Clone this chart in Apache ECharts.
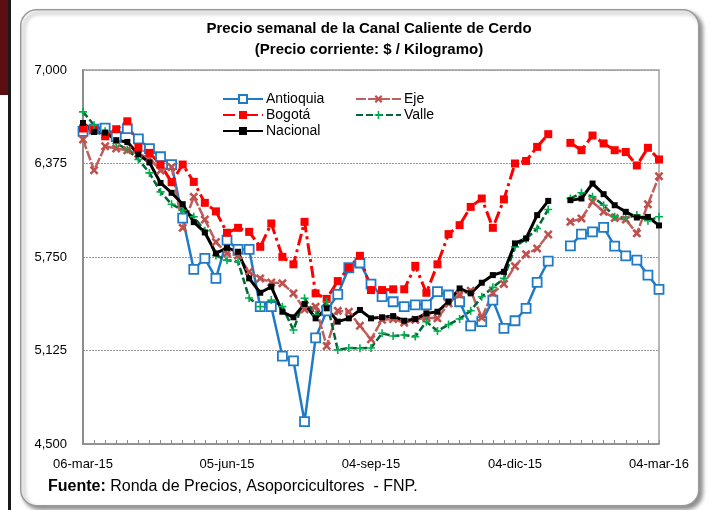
<!DOCTYPE html>
<html>
<head>
<meta charset="utf-8">
<script src="https://cdn.jsdelivr.net/npm/echarts@6/dist/echarts.min.js"></script>
<style>
  html, body { margin: 0; padding: 0; background: #fff; }
  #chart { width: 710px; height: 510px; }
</style>
</head>
<body>
<div id="chart"></div>
<script>
// semanas (viernes) de 06-mar-15 a 04-mar-16
var semanas = [
  '06-mar-15','13-mar-15','20-mar-15','27-mar-15','03-abr-15','10-abr-15','17-abr-15','24-abr-15',
  '01-may-15','08-may-15','15-may-15','22-may-15','29-may-15','05-jun-15','12-jun-15','19-jun-15',
  '26-jun-15','03-jul-15','10-jul-15','17-jul-15','24-jul-15','31-jul-15','07-ago-15','14-ago-15',
  '21-ago-15','28-ago-15','04-sep-15','11-sep-15','18-sep-15','25-sep-15','02-oct-15','09-oct-15',
  '16-oct-15','23-oct-15','30-oct-15','06-nov-15','13-nov-15','20-nov-15','27-nov-15','04-dic-15',
  '11-dic-15','18-dic-15','25-dic-15','01-ene-16','08-ene-16','15-ene-16','22-ene-16','29-ene-16',
  '05-feb-16','12-feb-16','19-feb-16','26-feb-16','04-mar-16'
];
var etiquetasX = ['06-mar-15', '05-jun-15', '04-sep-15', '04-dic-15', '04-mar-16'];
var ticksY = [4500, 5125, 5750, 6375, 7000];

var antioquia = [6590,6605,6612,6555,6608,6540,6475,6420,6368,6010,5667,5741,5607,5863,5801,5801,
  5418,5418,5088,5055,4650,5209,5390,5500,5678,5710,5569,5485,5451,5418,5430,5430,5518,5496,5451,
  5289,5318,5462,5273,5324,5407,5580,5723,null,5825,5903,5918,5948,5823,5758,5729,5629,5534];
var eje = [6535,6330,6490,6475,6464,6440,6410,6328,6352,5945,6152,6000,5850,5774,5760,5651,
  5607,5580,5574,5507,5400,5418,5155,5390,5384,5290,5200,5330,5335,5311,5330,5345,5340,5440,5500,
  5525,5345,5510,5570,5689,5769,5807,5900,null,5985,6008,6119,6052,6010,6000,5908,6103,6290];
var bogota = [6609,6600,6557,6604,6657,6482,6446,6368,6250,6368,6252,6112,6055,5912,5945,5918,
  5818,5974,5751,5701,5985,5507,5470,5589,5678,5758,5529,5529,5534,5534,5691,5511,5701,5903,5963,
  6085,6141,5945,6135,6375,6392,6486,6571,null,6513,6464,6562,6509,6464,6452,6362,6480,6402];
var valle = [6720,6631,6590,6509,6469,6402,6312,6185,6103,6063,6019,5925,5760,5729,5718,5476,
  5418,5462,5418,5262,5474,5362,5451,5129,5142,5140,5142,5240,5222,5229,5218,5318,5255,5298,5336,
  5391,5484,5547,5607,5818,5870,5941,6068,null,6141,6179,6152,6096,6019,6012,6030,5992,6019];
var nacional = [6646,6586,6582,6531,6519,6437,6382,6245,6179,6103,5983,5914,5774,5811,5785,5607,
  5511,5551,5384,5347,5436,5340,5407,5318,5340,5396,5340,5347,5355,5324,5335,5373,5384,5451,5540,
  5507,5578,5629,5651,5841,5874,6030,6125,null,6130,6141,6241,6170,6096,6052,6014,6018,5961];

// simbolos: x y +
var simboloX = 'path://M2,0 L5,3 L8,0 L10,2 L7,5 L10,8 L8,10 L5,7 L2,10 L0,8 L3,5 L0,2 Z';
var simboloMas = 'path://M4,0 L6,0 L6,4 L10,4 L10,6 L6,6 L6,10 L4,10 L4,6 L0,6 L0,4 L4,4 Z';

var fuente = 'Liberation Sans, Arial, sans-serif';

var chart = echarts.init(document.getElementById('chart'));

var option = {
  backgroundColor: '#ffffff',
  animation: false,
  textStyle: { fontFamily: fuente },
  graphic: [
    { type: 'rect', left: 0, top: 0, shape: { width: 8, height: 95 }, style: { fill: '#5c0f12' } },
    { type: 'rect', left: 8, top: 0, shape: { width: 3, height: 510 }, style: { fill: '#1a1a1a' } },
    {
      type: 'rect', left: 20, top: 9, z: -1,
      shape: { x: 0, y: 0, width: 678, height: 496, r: 16 },
      style: { fill: '#fff', stroke: '#9a9a9a', lineWidth: 1.5,
        shadowBlur: 4, shadowOffsetX: 3, shadowOffsetY: 3, shadowColor: 'rgba(0,0,0,0.45)' }
    },
    {
      type: 'text', left: 48, top: 479,
      style: {
        text: '{b|Fuente:} Ronda de Precios, Asoporcicultores  - FNP.',
        rich: { b: { fontWeight: 'bold', fontSize: 16, fontFamily: fuente, fill: '#000' } },
        fontSize: 16, fontFamily: fuente, fill: '#000'
      }
    }
  ],
  title: {
    text: 'Precio semanal de la Canal Caliente de Cerdo\n(Precio corriente: $ / Kilogramo)',
    left: 364, top: 13, textAlign: 'center',
    textStyle: { fontSize: 15, fontWeight: 'bold', color: '#000', lineHeight: 21, fontFamily: fuente }
  },
  legend: [
    {
      data: ['Antioquia', 'Bogotá', 'Nacional'],
      orient: 'vertical', left: 222, top: 92, padding: 0, itemGap: 2, itemWidth: 40, itemHeight: 10,
      textStyle: { fontSize: 14, color: '#000', fontFamily: fuente, padding: [0, 0, 0, -2] }
    },
    {
      data: ['Eje', 'Valle'],
      orient: 'vertical', left: 355, top: 92, padding: 0, itemGap: 2, itemWidth: 45, itemHeight: 10,
      textStyle: { fontSize: 14, color: '#000', fontFamily: fuente, padding: [0, 0, 0, -2] }
    }
  ],
  grid: { left: 83, right: 51, top: 70, bottom: 66, show: true, borderColor: '#a0a0a0', borderWidth: 1.5 },
  xAxis: {
    type: 'category', data: semanas, boundaryGap: false,
    axisLine: { lineStyle: { color: '#8c8c8c', width: 1.5 } },
    axisTick: { inside: true, length: 4, interval: 0, lineStyle: { color: '#8c8c8c' } },
    axisLabel: {
      interval: function (i, v) { return etiquetasX.indexOf(v) >= 0; },
      color: '#000', fontSize: 13, margin: 14, fontFamily: fuente
    },
    splitLine: { show: false }
  },
  yAxis: {
    type: 'value', min: ticksY[0], max: ticksY[ticksY.length - 1], interval: 625,
    axisLine: { show: true, lineStyle: { color: '#8c8c8c', width: 2 } },
    axisTick: { show: false },
    axisLabel: {
      color: '#000', fontSize: 13, margin: 16, fontFamily: fuente,
      formatter: function (v) { return v.toLocaleString('en-US'); }
    },
    splitLine: { lineStyle: { color: '#9a9a9a', type: [2, 1], width: 1 } }
  },
  series: [
    {
      name: 'Antioquia', type: 'line', data: antioquia, connectNulls: false, showAllSymbol: true,
      symbol: 'rect', symbolSize: 9, color: '#1f7bc8',
      lineStyle: { width: 2.5, color: '#1f7bc8' },
      itemStyle: { color: '#ffffff', borderColor: '#1f7bc8', borderWidth: 1.8 }
    },
    {
      name: 'Eje', type: 'line', data: eje, connectNulls: false, showAllSymbol: true,
      symbol: simboloX, symbolSize: 9, color: '#c0504d',
      lineStyle: { width: 2.5, color: '#c0605d', type: [10, 2] },
      itemStyle: { color: '#c0504d' }
    },
    {
      name: 'Bogotá', type: 'line', data: bogota, connectNulls: false, showAllSymbol: true,
      symbol: 'rect', symbolSize: 8, color: '#ff0000',
      lineStyle: { width: 3, color: '#ff0000', type: [12, 4, 3, 4] },
      itemStyle: { color: '#ff0000' }
    },
    {
      name: 'Valle', type: 'line', data: valle, connectNulls: false, showAllSymbol: true,
      symbol: simboloMas, symbolSize: 8, color: '#00a651',
      lineStyle: { width: 2.5, color: '#006633', type: [7, 3] },
      itemStyle: { color: '#00b050' }
    },
    {
      name: 'Nacional', type: 'line', data: nacional, connectNulls: false, showAllSymbol: true,
      symbol: 'rect', symbolSize: 6, color: '#000',
      lineStyle: { width: 3, color: '#000' },
      itemStyle: { color: '#000' }
    }
  ]
};

chart.setOption(option);
</script>
</body>
</html>
